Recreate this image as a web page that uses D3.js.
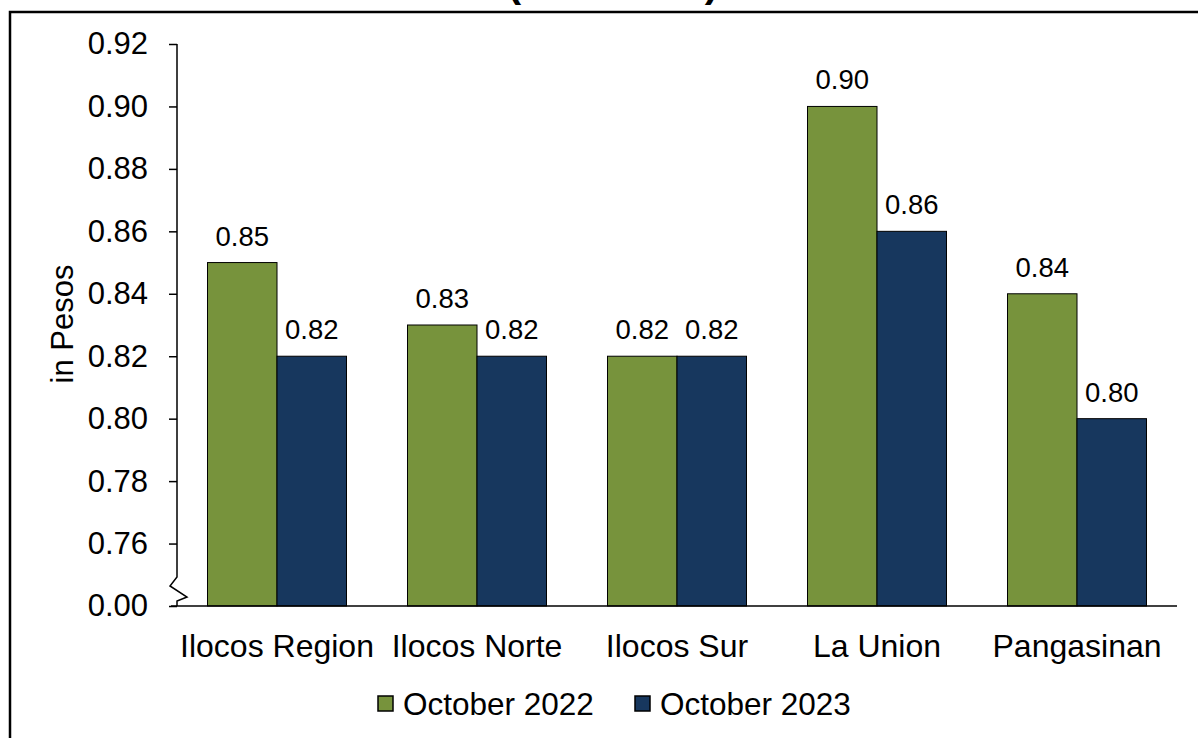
<!DOCTYPE html>
<html>
<head>
<meta charset="utf-8">
<script src="https://cdn.jsdelivr.net/npm/d3@7"></script>
<style>
  html, body { margin: 0; padding: 0; background: #fff; }
  svg { display: block; font-family: "Liberation Sans", Arial, sans-serif; }
</style>
</head>
<body>
<svg id="chart" width="1198" height="738"></svg>
<script>
const titleText = "(2018=100)";
const yAxisTitle = "in Pesos";
const categories = ["Ilocos Region", "Ilocos Norte", "Ilocos Sur", "La Union", "Pangasinan"];
const seriesNames = ["October 2022", "October 2023"];
const oct2022 = [0.85, 0.83, 0.82, 0.90, 0.84];
const oct2023 = [0.82, 0.82, 0.82, 0.86, 0.80];
const tickValues = [0.74, 0.76, 0.78, 0.80, 0.82, 0.84, 0.86, 0.88, 0.90, 0.92];
const tickLabels = ["0.00", "0.76", "0.78", "0.80", "0.82", "0.84", "0.86", "0.88", "0.90", "0.92"];
const colors = ["#77933C", "#17375E"];

(function () {
const series = [oct2022, oct2023];
const svg = d3.select("#chart");

// frame
svg.append("rect").attr("x", 10).attr("y", 12).attr("width", 1300).attr("height", 900)
  .attr("fill", "#fff").attr("stroke", "#000").attr("stroke-width", 2.5);

// title (mostly cut off above the picture)
svg.append("text").attr("x", 613).attr("y", -3).attr("text-anchor", "middle")
  .attr("font-size", 41).attr("font-weight", "bold").text(titleText);

const pL = 177, pR = 1177, pT = 44, pB = 606;
const y = d3.scaleLinear().domain([0.74, 0.92]).range([pB, pT]);
const x0 = d3.scaleBand().domain(categories).range([pL, pR]).paddingInner(0.305).paddingOuter(0.1525);
const x1 = d3.scaleBand().domain(seriesNames).range([0, x0.bandwidth()]);

// bars
const groups = svg.append("g").selectAll("g").data(categories).join("g")
  .attr("transform", d => `translate(${x0(d)},0)`);
const rowData = (d, i) => seriesNames.map((s, j) => ({ s, v: series[j][i], j }));
groups.selectAll("rect").data(rowData)
  .join("rect")
  .attr("x", d => x1(d.s)).attr("width", x1.bandwidth())
  .attr("y", d => y(d.v)).attr("height", d => y(0.74) - y(d.v))
  .attr("fill", d => colors[d.j]).attr("stroke", "#000").attr("stroke-width", 1);
groups.selectAll("text").data(rowData)
  .join("text")
  .attr("x", d => x1(d.s) + x1.bandwidth() / 2).attr("y", d => y(d.v) - 17)
  .attr("text-anchor", "middle").attr("font-size", 27.5).attr("fill", "#000")
  .text(d => d.v.toFixed(2));

// y axis
const yAxis = d3.axisLeft(y).tickValues(tickValues).tickSize(8).tickPadding(21)
  .tickFormat((d, i) => tickLabels[i]);
const ya = svg.append("g").attr("transform", `translate(${pL},0)`).call(yAxis);
ya.select(".domain").remove();
ya.selectAll(".tick line").attr("stroke", "#000").attr("stroke-width", 1.5);
ya.selectAll(".tick text").attr("font-size", 31).attr("fill", "#000")
  .attr("font-family", "Liberation Sans, Arial, sans-serif");
// axis line with break
svg.append("path")
  .attr("d", `M${pL},${pT}V577L170,586L187,597L${pL},601V${pB}`)
  .attr("fill", "none").attr("stroke", "#000").attr("stroke-width", 1.5);

// x axis
const xAxis = d3.axisBottom(x0).tickSize(0).tickPadding(28);
const xa = svg.append("g").attr("transform", `translate(0,${pB})`).call(xAxis);
xa.select(".domain").remove();
xa.selectAll(".tick text").attr("font-size", 32).attr("fill", "#000")
  .attr("font-family", "Liberation Sans, Arial, sans-serif");
svg.append("line").attr("x1", 171).attr("x2", pR).attr("y1", pB).attr("y2", pB)
  .attr("stroke", "#000").attr("stroke-width", 1.5);

// y axis title
svg.append("text").attr("transform", "translate(73,324) rotate(-90)")
  .attr("text-anchor", "middle").attr("font-size", 31).text(yAxisTitle);

// legend
const legendX = [378, 635];
const lg = svg.append("g").selectAll("g").data(seriesNames).join("g")
  .attr("transform", (d, i) => `translate(${legendX[i]},696)`);
lg.append("rect").attr("width", 15).attr("height", 15)
  .attr("fill", (d, i) => colors[i]).attr("stroke", "#000").attr("stroke-width", 1.5);
lg.append("text").attr("x", 25).attr("y", 19).attr("font-size", 31.5).text(d => d);
})();
</script>
</body>
</html>
